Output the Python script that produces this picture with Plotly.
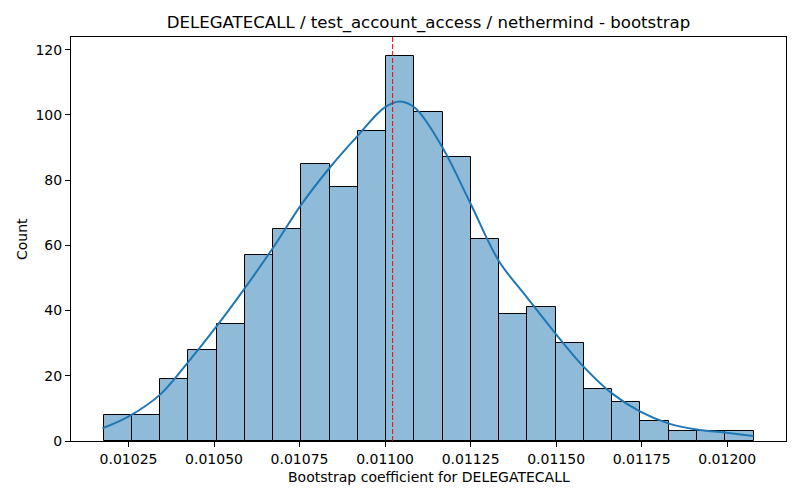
import numpy as np
import plotly.graph_objects as go

# histogram counts (23 bins)
counts = [8, 8, 19, 28, 36, 57, 65, 85, 78, 95, 118, 101, 87, 62, 39, 41, 30, 16, 12, 6, 3, 3, 3]
bin_start = 0.0101769
bin_end = 0.0120769

# kde curve (x, count)
kde_x = [0.010174, 0.010255, 0.010343, 0.010425, 0.010506, 0.010588, 0.010674,
         0.010755, 0.010838, 0.010919, 0.010999, 0.011044, 0.011088, 0.011166, 0.011249,
         0.011332, 0.011415, 0.011497, 0.011580, 0.011663, 0.011746, 0.011828,
         0.011911, 0.011994, 0.012077]
kde_y = [3.9, 7.8, 14.3, 24.3, 35.0, 46.6, 59.5,
         72.5, 83.8, 93.5, 102.3, 104.1, 102.1, 90.3, 73.0,
         55.3, 44.0, 33.1, 22.8, 14.6, 9.0, 5.4,
         3.5, 2.6, 1.5]

mean_value = 0.011022

x_ticks = [0.01025, 0.01050, 0.01075, 0.01100, 0.01125, 0.01150, 0.01175, 0.01200]
y_ticks = [0, 20, 40, 60, 80, 100, 120]

edges = np.linspace(bin_start, bin_end, len(counts) + 1)
centers = (edges[:-1] + edges[1:]) / 2
bw = edges[1] - edges[0]

fig = go.Figure()
fig.add_trace(go.Bar(
    x=centers, y=counts, width=bw,
    marker=dict(color="rgba(31,119,180,0.5)", line=dict(color="black", width=1)),
    showlegend=False,
))
fig.add_trace(go.Scatter(
    x=kde_x, y=kde_y, mode="lines", line=dict(color="#1f77b4", width=2, shape="spline", smoothing=1),
    showlegend=False,
))
fig.add_vline(x=mean_value, line=dict(color="red", width=1, dash="5px,2px"))

# page body has an 8px margin, so the figure is 8px smaller and shifted
pad = 0.05 * (bin_end - bin_start)
fig.update_layout(
    width=792, height=492,
    margin=dict(l=63, r=14, t=29, b=59, autoexpand=False),
    plot_bgcolor="white", paper_bgcolor="white",
    font=dict(family="DejaVu Sans", size=14, color="black"),
    bargap=0,
    title=dict(text="DELEGATECALL / test_account_access / nethermind - bootstrap",
               x=(63 + 778) / 2 / 792, xanchor="center", y=1 - 14 / 492, yanchor="middle",
               font=dict(size=16.6, color="black")),
    annotations=[
        dict(text="Bootstrap coefficient for DELEGATECALL", xref="paper", yref="paper",
             x=0.5, y=-36 / 404, xanchor="center", yanchor="middle", showarrow=False,
             font=dict(size=14)),
        dict(text="Count", xref="paper", yref="paper", x=-49 / 715, y=0.5,
             xanchor="center", yanchor="middle", textangle=-90, showarrow=False,
             font=dict(size=14)),
    ],
)
fig.update_xaxes(
    range=[bin_start - pad, bin_end + pad], automargin=False,
    tickvals=x_ticks, ticktext=["%.5f" % v for v in x_ticks],
    ticks="outside", ticklen=5, tickcolor="black",
    showline=True, linecolor="black", linewidth=1, mirror=True,
    showgrid=False, zeroline=False,
)
fig.update_yaxes(
    range=[0, 123.9], tickvals=y_ticks, automargin=False,
    ticks="outside", ticklen=5, tickcolor="black",
    showline=True, linecolor="black", linewidth=1, mirror=True,
    showgrid=False, zeroline=False,
)

fig.write_html("out.html")
